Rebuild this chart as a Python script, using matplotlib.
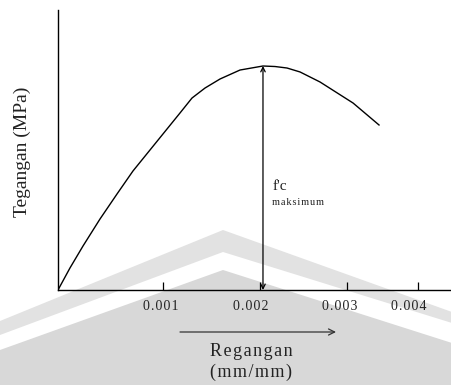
import numpy as np
import matplotlib
matplotlib.use("Agg")
import matplotlib.pyplot as plt
from matplotlib.patches import Polygon

plt.rcParams['font.family'] = ['Liberation Serif', 'DejaVu Serif']

# stress-strain curve
strain = [0, 0.000114, 0.000238, 0.0004, 0.000562, 0.000714, 0.000876,
          0.001038, 0.001162, 0.001276, 0.0014, 0.001543, 0.001733, 0.001952,
          0.002067, 0.002181, 0.002305, 0.002495, 0.00281, 0.003057]
stress = [0, 2.95, 5.89, 9.51, 12.86, 15.94, 18.75, 21.56, 23.71, 25.71,
          27.05, 28.26, 29.46, 30.0, 29.93, 29.73, 29.2, 27.86, 25.04, 22.1]

# the axis ticks are not evenly spaced in the original drawing
tick_pos = [0.001, 0.00192, 0.00275, 0.00343]
label_pos = [0.00098, 0.00184, 0.00268, 0.00334]
tick_labels = ['0.001', '0.002', '0.003', '0.004']

hs = '\u200a'

def spaced(s):
    return hs.join(s)

fig = plt.figure(figsize=(4.52, 3.85), dpi=100)

# background chevron (watermark) in pixel coordinates
bg = fig.add_axes([0, 0, 1, 1], zorder=0)
bg.set_xlim(0, 452)
bg.set_ylim(385, 0)
bg.axis('off')

band = Polygon([(0, 321), (223, 230), (452, 312), (452, 385), (0, 385)],
               closed=True, facecolor='#e2e2e2', edgecolor='none')
stripe = Polygon([(0, 335), (223, 252), (452, 323), (452, 385), (0, 385)],
                 closed=True, facecolor='white', edgecolor='none')
fill = Polygon([(0, 350), (223, 270), (452, 343), (452, 385), (0, 385)],
               closed=True, facecolor='#d8d8d8', edgecolor='none')
for p in (band, stripe, fill):
    bg.add_patch(p)

# main chart
ax = fig.add_axes([58 / 452, 95 / 385, 394 / 452, 280 / 385], zorder=1)
ax.patch.set_visible(False)
ax.set_xlim(0, 0.003752)
ax.set_ylim(0, 37.5)
for s in ['top', 'right']:
    ax.spines[s].set_visible(False)
ax.spines['left'].set_linewidth(1.0)
ax.spines['bottom'].set_linewidth(1.0)

ax.plot(strain, stress, color='black', lw=1.0)

ax.set_yticks([])
ax.set_xticks(tick_pos)
ax.tick_params(axis='x', which='major', direction='in', length=5.5, width=0.9,
               labelbottom=False)
ax.set_xticks(label_pos, labels=[spaced(t) for t in tick_labels], minor=True)
ax.tick_params(axis='x', which='minor', length=0, pad=7, labelsize=10,
               labelcolor='#222222')

k = int(np.argmax(stress))
ax.annotate('', xy=(strain[k], stress[k]), xytext=(strain[k], 0),
            arrowprops=dict(arrowstyle='<->', lw=0.9, color='black',
                            shrinkA=0, shrinkB=0, mutation_scale=8))
ax.text(0.00204, 13.8, "f'c", fontsize=11, va='center', color='#222222')
ax.text(0.00204, 11.7, spaced('maksimum'), fontsize=7.5, va='center',
        color='#222222')

# axis titles
bg.annotate('', xy=(336, 332), xytext=(180, 332),
            arrowprops=dict(arrowstyle='->', lw=0.9, color='#333333',
                            shrinkA=0, shrinkB=0, mutation_scale=11))
bg.text(251, 352, spaced('Regangan'), ha='center', va='center', fontsize=13,
        color='#222222')
bg.text(251, 372, spaced('(mm/mm)'), ha='center', va='center', fontsize=13,
        color='#222222')
bg.text(22, 152, 'Tegangan (MPa)', rotation=90, ha='center', va='center',
        fontsize=14, color='#222222')

fig.savefig('out.png', dpi=100)
